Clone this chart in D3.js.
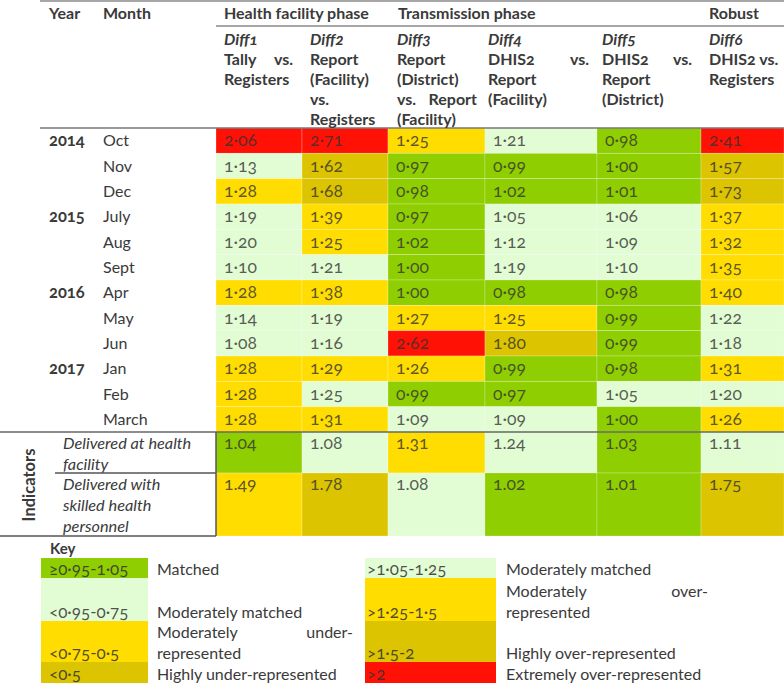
<!DOCTYPE html>
<html><head><meta charset="utf-8">
<script src="https://cdn.jsdelivr.net/npm/d3@7/dist/d3.min.js"></script>
<style>
body{margin:0;background:#fff;}
svg text{font-family:Lato,"Open Sans",sans-serif;font-variant-numeric:oldstyle-nums;font-feature-settings:"onum" 1;}
</style></head>
<body><svg id="c" width="784" height="684"></svg>
<script>
// ---------- data ----------
const years  = ["2014","","","2015","","","2016","","","2017","",""];
const months = ["Oct","Nov","Dec","July","Aug","Sept","Apr","May","Jun","Jan","Feb","March"];
const columns = ["Diff1","Diff2","Diff3","Diff4","Diff5","Diff6"];
const diff1 = [2.06,1.13,1.28,1.19,1.20,1.10,1.28,1.14,1.08,1.28,1.28,1.28];
const diff2 = [2.71,1.62,1.68,1.39,1.25,1.21,1.38,1.19,1.16,1.29,1.25,1.31];
const diff3 = [1.25,0.97,0.98,0.97,1.02,1.00,1.00,1.27,2.62,1.26,0.99,1.09];
const diff4 = [1.21,0.99,1.02,1.05,1.12,1.19,0.98,1.25,1.80,0.99,0.97,1.09];
const diff5 = [0.98,1.00,1.01,1.06,1.09,1.10,0.98,0.99,0.99,0.98,1.05,1.00];
const diff6 = [2.41,1.57,1.73,1.37,1.32,1.35,1.40,1.22,1.18,1.31,1.20,1.26];
// colour class of each cell as shown (M matched, L moderately matched, Y moderate, D high, R extreme)
const cls1 = ["R","L","Y","L","L","L","Y","L","L","Y","Y","Y"];
const cls2 = ["R","D","D","Y","Y","L","Y","L","L","Y","L","Y"];
const cls3 = ["Y","M","M","M","M","M","M","Y","R","Y","M","L"];
const cls4 = ["L","M","M","L","L","L","M","Y","D","M","M","L"];
const cls5 = ["M","M","M","L","L","L","M","M","M","M","L","M"];
const cls6 = ["R","D","D","Y","Y","Y","Y","L","L","Y","L","Y"];
const indicatorLabels = [["Delivered at health","facility"],["Delivered with","skilled health","personnel"]];
const indicator1 = [1.04,1.08,1.31,1.24,1.03,1.11];
const indicator2 = [1.49,1.78,1.08,1.02,1.01,1.75];
const indCls1 = ["M","L","Y","L","M","L"];
const indCls2 = ["Y","D","L","M","M","D"];
const phases = ["Health facility phase","Transmission phase","Robust"];
const colHeaders = [
  ["Tally|vs.","Registers"],
  ["Report","(Facility)","vs.","Registers"],
  ["Report","(District)","vs.|Report","(Facility)"],
  ["DHIS2|vs.","Report","(Facility)"],
  ["DHIS2|vs.","Report","(District)"],
  ["DHIS2 vs.","Registers"]
];
const keyLeft = [
  {range:"≥0·95-1·05", label:["Matched"], c:"M"},
  {range:"<0·95-0·75", label:["Moderately matched"], c:"L"},
  {range:"<0·75-0·5", label:["Moderately|under-","represented"], c:"Y"},
  {range:"<0·5", label:["Highly under-represented"], c:"D"}
];
const keyRight = [
  {range:">1·05-1·25", label:["Moderately matched"], c:"L"},
  {range:">1·25-1·5", label:["Moderately|over-","represented"], c:"Y"},
  {range:">1·5-2", label:["Highly over-represented"], c:"D"},
  {range:">2", label:["Extremely over-represented"], c:"R"}
];

// ---------- layout ----------
const svg = d3.select("#c");
const color = d3.scaleOrdinal(["M","L","Y","D","R"], ["#8fce00","#e2fcd4","#ffdd00","#dcc400","#ff1106"]);
const colEdges = [216,302,388,485,597,701,784];
const xCol = d3.scaleOrdinal(columns, colEdges.slice(0,6));
const wCol = d3.scaleOrdinal(columns, colEdges.slice(1).map((e,i)=>e-colEdges[i]));
const hdrL = [224,310,397,488,602,709];
const hdrR = [293,380,477,589,692,781];
const y = d3.scaleBand().domain(d3.range(months.length)).range([128,432]);
const indEdges = [432,473,536];
const TXT = "#3a3a3a";
const FS = 16;
const NFS = 17.5;
const fmtDot = v => d3.format(".2f")(v).replace(".","·");
const fmt = d3.format(".2f");

const diffs = [diff1,diff2,diff3,diff4,diff5,diff6];
const clss = [cls1,cls2,cls3,cls4,cls5,cls6];

// cells
const cells = [];
columns.forEach((c,ci)=>months.forEach((m,ri)=>cells.push({c, ri, v:diffs[ci][ri], k:clss[ci][ri]})));
const g = svg.append("g");
g.selectAll("rect.cell").data(cells).join("rect")
  .attr("x",d=>xCol(d.c)).attr("y",d=>y(d.ri))
  .attr("width",d=>wCol(d.c)).attr("height",y.bandwidth())
  .attr("fill",d=>color(d.k)).attr("stroke","rgba(255,255,255,0.3)").attr("stroke-width",0.8);
g.selectAll("text.val").data(cells).join("text")
  .attr("x",d=>xCol(d.c)+8).attr("y",d=>y(d.ri)+y.bandwidth()/2-1)
  .attr("dominant-baseline","central").attr("font-size",NFS).attr("fill","#333").attr("fill-opacity",0.8)
  .text(d=>fmtDot(d.v));

// indicator cells
const indCells = [];
[[indicator1,indCls1],[indicator2,indCls2]].forEach(([vals,ks],ri)=>columns.forEach((c,ci)=>indCells.push({c,ri,v:vals[ci],k:ks[ci]})));
g.selectAll("rect.ind").data(indCells).join("rect")
  .attr("x",d=>xCol(d.c)).attr("y",d=>indEdges[d.ri])
  .attr("width",d=>wCol(d.c)).attr("height",d=>indEdges[d.ri+1]-indEdges[d.ri])
  .attr("fill",d=>color(d.k)).attr("stroke","rgba(255,255,255,0.3)").attr("stroke-width",0.8);
g.selectAll("text.ind").data(indCells).join("text")
  .attr("x",d=>xCol(d.c)+8).attr("y",d=>indEdges[d.ri]+10)
  .attr("dominant-baseline","central").attr("font-size",NFS).attr("fill","#333").attr("fill-opacity",0.8)
  .text(d=>fmt(d.v));

// row labels
svg.selectAll("text.yr").data(years).join("text")
  .attr("x",49).attr("y",(d,i)=>y(i)+y.bandwidth()/2-1).attr("dominant-baseline","central")
  .attr("font-size",FS+0.5).attr("font-weight","bold").attr("fill",TXT).text(d=>d);
svg.selectAll("text.mo").data(months).join("text")
  .attr("x",103).attr("y",(d,i)=>y(i)+y.bandwidth()/2-1).attr("dominant-baseline","central")
  .attr("font-size",FS).attr("fill",TXT).text(d=>d);

// indicator labels
indicatorLabels.forEach((lines,ri)=>{
  lines.forEach((t,li)=>{
    svg.append("text").attr("x",63).attr("y",indEdges[ri]+10+li*21).attr("dominant-baseline","central")
      .attr("font-size",FS+0.3).attr("font-style","italic").attr("fill",TXT).text(t);
  });
});
svg.append("text").attr("transform","translate(29,485) rotate(-90)").attr("text-anchor","middle")
  .attr("dominant-baseline","central").attr("font-size",16.5).attr("font-weight","bold").attr("fill",TXT).text("Indicators");

// lines
const line = (x1,y1,x2,y2,col,w)=>svg.append("line").attr("x1",x1).attr("y1",y1).attr("x2",x2).attr("y2",y2)
  .attr("stroke",col).attr("stroke-width",w);
line(40,1,784,1,"#888",1.5);
line(216,26,784,26,"#888",1.5);
line(40,128,784,128,"#777",1.5);
line(0,432,784,432,"#666",1.5);
line(216,432,216,536,"#555",1.5);
line(55,473,216,473,"#555",1.5);
line(0,536,216,536,"#555",1.5);

// header
const hdr = (x,yy,t,opt={})=>svg.append("text").attr("x",x).attr("y",yy).attr("dominant-baseline","central")
  .attr("font-size",opt.fs||FS).attr("font-weight","bold").attr("font-style",opt.it?"italic":null)
  .attr("text-anchor",opt.anchor||null).attr("fill",TXT).text(t);
hdr(49,12,"Year"); hdr(103,12,"Month");
[224,398,709].forEach((x,i)=>hdr(x,12,phases[i]));
columns.forEach((c,ci)=>{
  hdr(hdrL[ci],38,c,{it:true});
  colHeaders[ci].forEach((ln,li)=>{
    const yy = 58+li*20;
    if(ln.includes("|")){
      const [a,b] = ln.split("|");
      hdr(hdrL[ci],yy,a); hdr(hdrR[ci],yy,b,{anchor:"end"});
    } else hdr(hdrL[ci],yy,ln);
  });
});

// key
hdr(50,548,"Key",{fs:15});
const keyEdges = [558,578,621,662,683];
function drawKey(items,x0,x1,tx,lx,lr){
  items.forEach((d,i)=>{
    const top=keyEdges[i], bot=keyEdges[i+1];
    svg.append("rect").attr("x",x0).attr("y",top).attr("width",x1-x0).attr("height",bot-top).attr("fill",color(d.c));
    svg.append("text").attr("x",tx).attr("y",bot-10).attr("dominant-baseline","central")
      .attr("font-size",NFS-0.5).attr("fill","#333").attr("fill-opacity",0.85).text(d.range);
    const n=d.label.length;
    d.label.forEach((ln,li)=>{
      const yy = bot-10-(n-1-li)*21;
      if(ln.includes("|")){
        const [a,b]=ln.split("|");
        svg.append("text").attr("x",lx).attr("y",yy).attr("dominant-baseline","central").attr("font-size",FS).attr("fill",TXT).text(a);
        svg.append("text").attr("x",lr).attr("y",yy).attr("text-anchor","end").attr("dominant-baseline","central").attr("font-size",FS).attr("fill",TXT).text(b);
      } else svg.append("text").attr("x",lx).attr("y",yy).attr("dominant-baseline","central").attr("font-size",FS).attr("fill",TXT).text(ln);
    });
  });
}
drawKey(keyLeft,41,148,49,157,353);
drawKey(keyRight,365,496,367,506,708);
</script></body></html>
